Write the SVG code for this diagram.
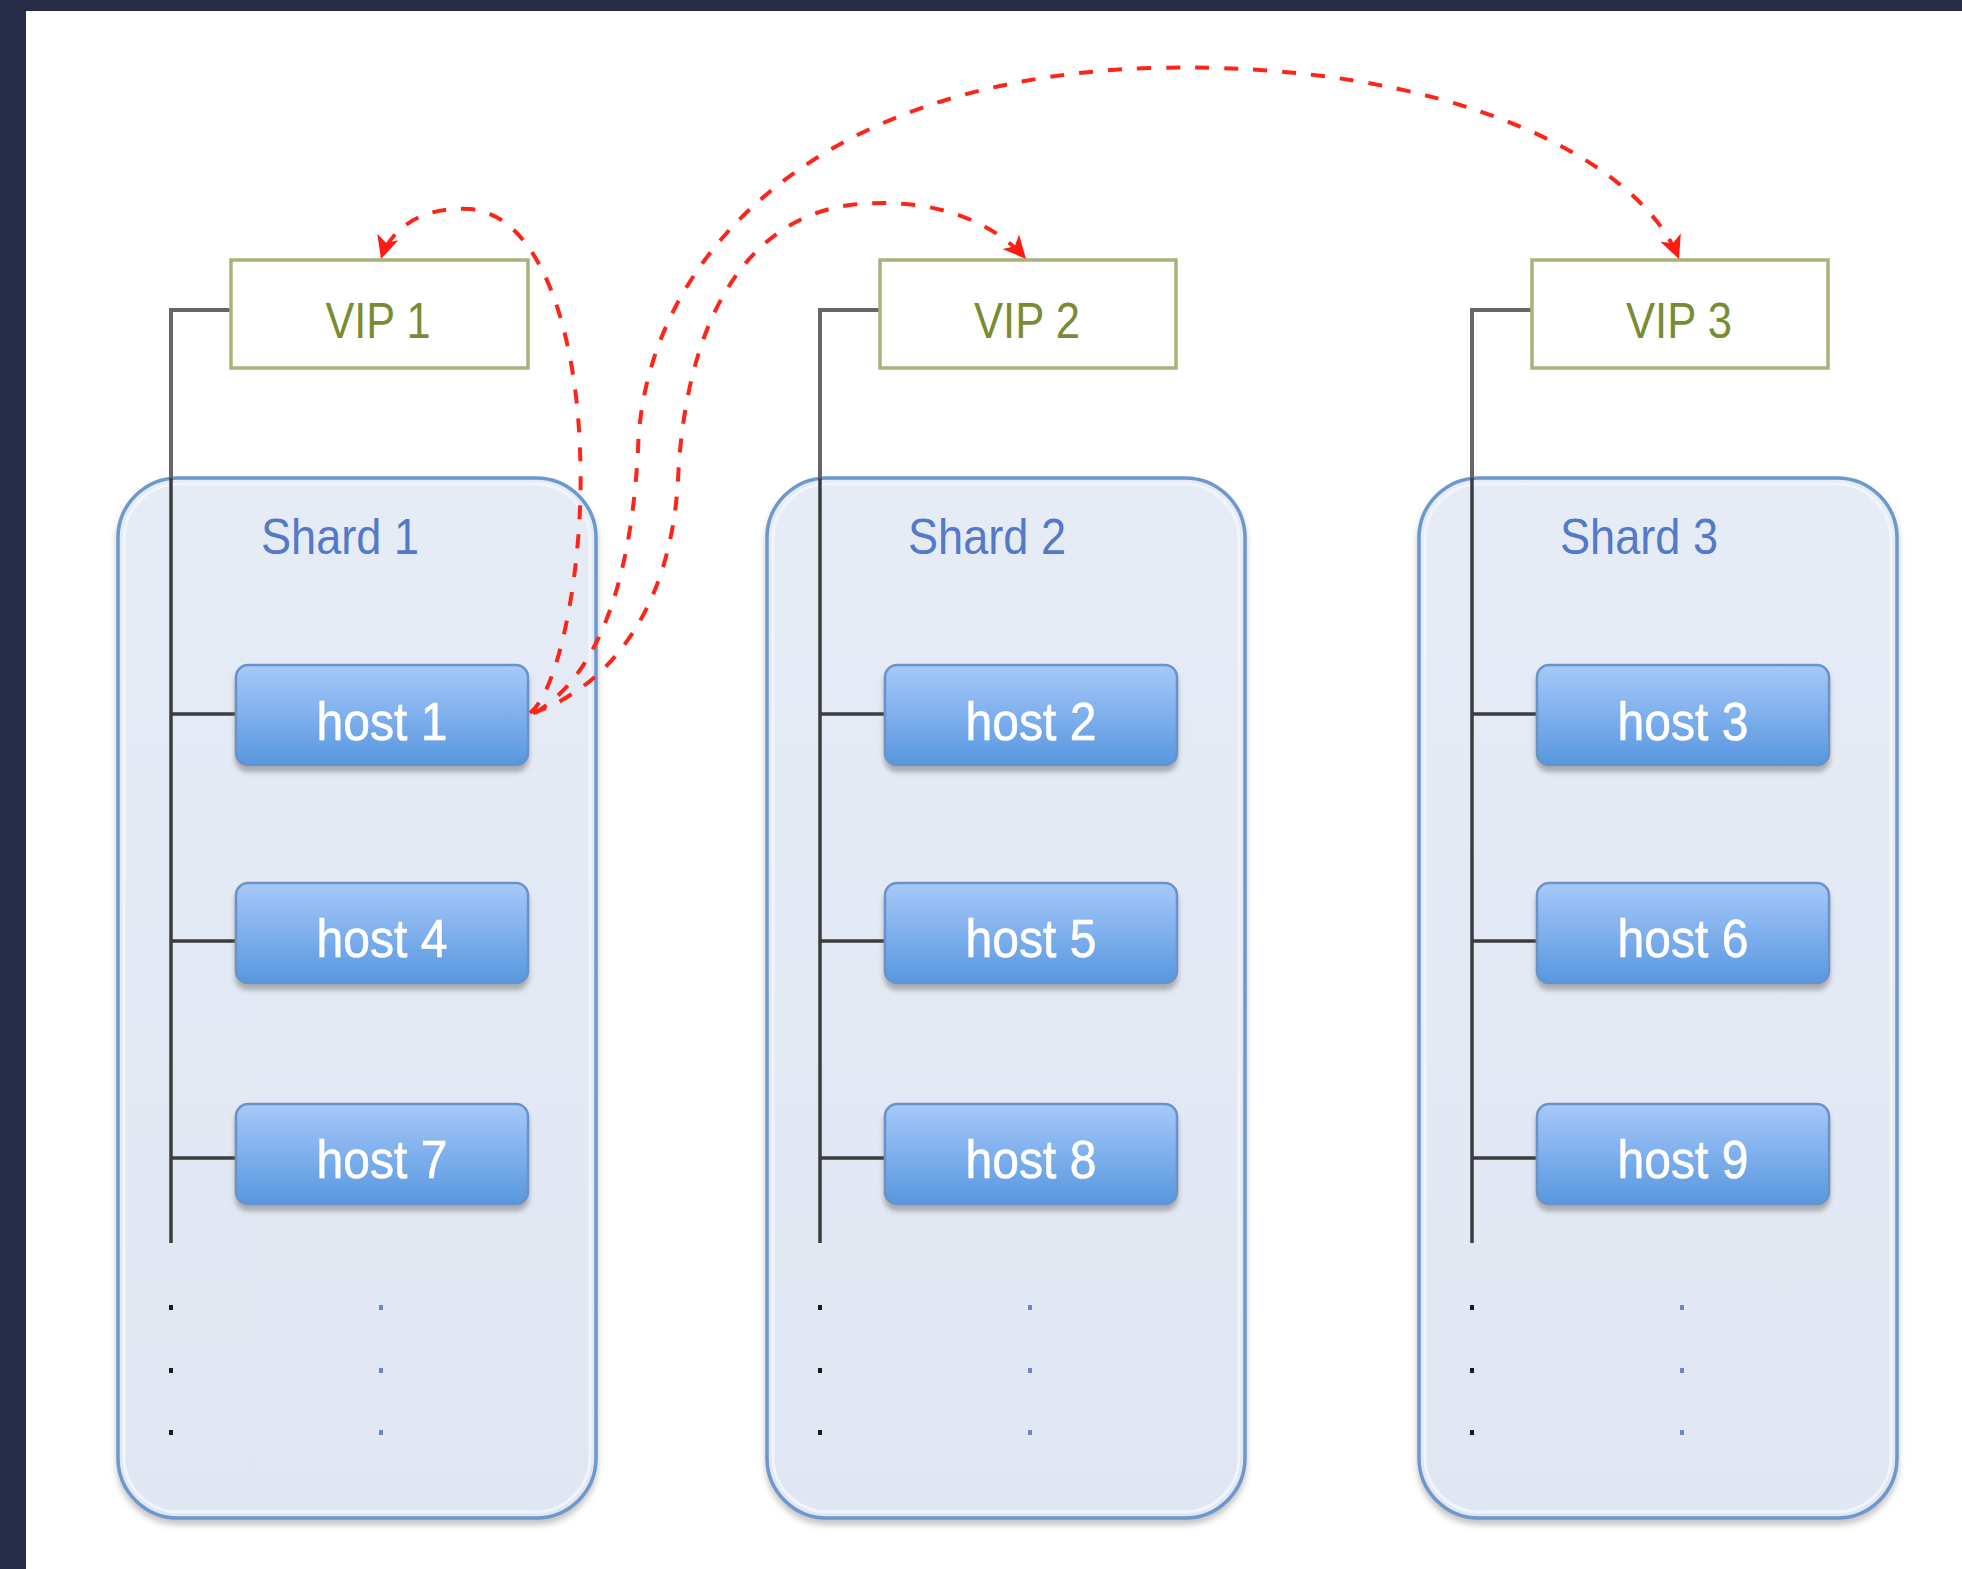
<svg xmlns="http://www.w3.org/2000/svg" width="1962" height="1569" viewBox="0 0 1962 1569">
  <defs>
    <linearGradient id="hostFill" x1="0" y1="0" x2="0" y2="1">
      <stop offset="0" stop-color="#a6c9f8"/>
      <stop offset="0.45" stop-color="#83b2ee"/>
      <stop offset="1" stop-color="#5797df"/>
    </linearGradient>
    <linearGradient id="shardFill" x1="0" y1="0" x2="0" y2="1">
      <stop offset="0" stop-color="#e6ecf6"/>
      <stop offset="1" stop-color="#e0e7f2"/>
    </linearGradient>
    <filter id="softShadow" x="-10%" y="-10%" width="120%" height="125%">
      <feDropShadow dx="0" dy="5" stdDeviation="3" flood-color="#7a7a7a" flood-opacity="0.45"/>
    </filter>
    <filter id="btnShadow" x="-10%" y="-20%" width="120%" height="150%">
      <feDropShadow dx="0" dy="6" stdDeviation="2.5" flood-color="#6f6f6f" flood-opacity="0.5"/>
    </filter>
    <marker id="redHead" markerUnits="userSpaceOnUse" markerWidth="28" markerHeight="28" viewBox="-2 -13 28 26" refX="23" refY="0" orient="auto">
      <path d="M0,-11 L23,0 L0,11 L6,0 Z" fill="#ff1a12"/>
    </marker>
    <style>
      .frame { fill: #272c48; }
      .vip rect { fill: #ffffff; stroke: #a9b27b; stroke-width: 3.5; }
      .vip text { font-family: "Liberation Sans", Arial, sans-serif; font-size: 50px; fill: #7a8c33; text-anchor: middle; }
      .shard .box { fill: url(#shardFill); stroke: #6c98cb; stroke-width: 3.5; filter: url(#softShadow); }
      .shard .hl { fill: none; stroke: #f4f7fc; stroke-width: 3; opacity: 0.8; }
      .shard text { font-family: "Liberation Sans", Arial, sans-serif; font-size: 50px; fill: #5379c8; text-anchor: middle; }
      .shard .dotL { fill: #1a1a1a; }
      .shard .dotR { fill: #6e84cf; }
      .host rect { fill: url(#hostFill); stroke: #6b92c6; stroke-width: 2.5; filter: url(#btnShadow); }
      .host text { font-family: "Liberation Sans", Arial, sans-serif; font-size: 53px; fill: #ffffff; text-anchor: middle; stroke: #ffffff; stroke-width: 0.6; }
      .bus { fill: none; stroke: #3c3c3c; stroke-width: 3.5; }
      .bus-top { fill: none; stroke: #666666; stroke-width: 4; }
      .flow { fill: none; stroke: #ff2418; stroke-width: 4; stroke-dasharray: 14 15; marker-end: url(#redHead); }
    </style>
  </defs>

  <!-- page background and dark frame -->
  <rect x="0" y="0" width="1962" height="1569" fill="#ffffff"/>
  <rect class="frame" x="0" y="0" width="1962" height="11"/>
  <rect class="frame" x="0" y="0" width="26" height="1569"/>

  <!-- shard containers -->
  <g id="shard1" class="shard">
    <rect class="box" x="118" y="478" width="478" height="1040" rx="60"/>
    <rect class="hl" x="124" y="484" width="466" height="1028" rx="55"/>
    <text x="340" y="554" textLength="158" lengthAdjust="spacingAndGlyphs">Shard 1</text>
    <rect class="dotL" x="169" y="1305" width="4" height="5"/>
    <rect class="dotL" x="169" y="1368" width="4" height="5"/>
    <rect class="dotL" x="169" y="1430" width="4" height="5"/>
    <rect class="dotR" x="379" y="1305" width="4" height="5"/>
    <rect class="dotR" x="379" y="1368" width="4" height="5"/>
    <rect class="dotR" x="379" y="1430" width="4" height="5"/>
  </g>
  <g id="shard2" class="shard">
    <rect class="box" x="767" y="478" width="478" height="1040" rx="60"/>
    <rect class="hl" x="773" y="484" width="466" height="1028" rx="55"/>
    <text x="987" y="554" textLength="158" lengthAdjust="spacingAndGlyphs">Shard 2</text>
    <rect class="dotL" x="818" y="1305" width="4" height="5"/>
    <rect class="dotL" x="818" y="1368" width="4" height="5"/>
    <rect class="dotL" x="818" y="1430" width="4" height="5"/>
    <rect class="dotR" x="1028" y="1305" width="4" height="5"/>
    <rect class="dotR" x="1028" y="1368" width="4" height="5"/>
    <rect class="dotR" x="1028" y="1430" width="4" height="5"/>
  </g>
  <g id="shard3" class="shard">
    <rect class="box" x="1419" y="478" width="478" height="1040" rx="60"/>
    <rect class="hl" x="1425" y="484" width="466" height="1028" rx="55"/>
    <text x="1639" y="554" textLength="158" lengthAdjust="spacingAndGlyphs">Shard 3</text>
    <rect class="dotL" x="1470" y="1305" width="4" height="5"/>
    <rect class="dotL" x="1470" y="1368" width="4" height="5"/>
    <rect class="dotL" x="1470" y="1430" width="4" height="5"/>
    <rect class="dotR" x="1680" y="1305" width="4" height="5"/>
    <rect class="dotR" x="1680" y="1368" width="4" height="5"/>
    <rect class="dotR" x="1680" y="1430" width="4" height="5"/>
  </g>

  <!-- connectors: bus lines from each VIP to its hosts -->
  <g id="connectors">
    <path class="bus-top" d="M231 310 H171 V478"/>
    <path class="bus" d="M171 478 V1243 M171 714 H236 M171 941 H236 M171 1158 H236"/>
    <path class="bus-top" d="M880 310 H820 V478"/>
    <path class="bus" d="M820 478 V1243 M820 714 H885 M820 941 H885 M820 1158 H885"/>
    <path class="bus-top" d="M1532 310 H1472 V478"/>
    <path class="bus" d="M1472 478 V1243 M1472 714 H1537 M1472 941 H1537 M1472 1158 H1537"/>
  </g>

  <!-- hosts -->
  <g id="host1" class="host"><rect x="236" y="665" width="292" height="100" rx="12"/><text x="382" y="740" textLength="131" lengthAdjust="spacingAndGlyphs">host 1</text></g>
  <g id="host2" class="host"><rect x="885" y="665" width="292" height="100" rx="12"/><text x="1031" y="740" textLength="131" lengthAdjust="spacingAndGlyphs">host 2</text></g>
  <g id="host3" class="host"><rect x="1537" y="665" width="292" height="100" rx="12"/><text x="1683" y="740" textLength="131" lengthAdjust="spacingAndGlyphs">host 3</text></g>
  <g id="host4" class="host"><rect x="236" y="883" width="292" height="100" rx="12"/><text x="382" y="957" textLength="131" lengthAdjust="spacingAndGlyphs">host 4</text></g>
  <g id="host5" class="host"><rect x="885" y="883" width="292" height="100" rx="12"/><text x="1031" y="957" textLength="131" lengthAdjust="spacingAndGlyphs">host 5</text></g>
  <g id="host6" class="host"><rect x="1537" y="883" width="292" height="100" rx="12"/><text x="1683" y="957" textLength="131" lengthAdjust="spacingAndGlyphs">host 6</text></g>
  <g id="host7" class="host"><rect x="236" y="1104" width="292" height="100" rx="12"/><text x="382" y="1178" textLength="131" lengthAdjust="spacingAndGlyphs">host 7</text></g>
  <g id="host8" class="host"><rect x="885" y="1104" width="292" height="100" rx="12"/><text x="1031" y="1178" textLength="131" lengthAdjust="spacingAndGlyphs">host 8</text></g>
  <g id="host9" class="host"><rect x="1537" y="1104" width="292" height="100" rx="12"/><text x="1683" y="1178" textLength="131" lengthAdjust="spacingAndGlyphs">host 9</text></g>

  <!-- virtual IPs -->
  <g id="vip1" class="vip"><rect x="231" y="260" width="297" height="108"/><text x="378" y="338" textLength="105" lengthAdjust="spacingAndGlyphs">VIP 1</text></g>
  <g id="vip2" class="vip"><rect x="880" y="260" width="296" height="108"/><text x="1027" y="338" textLength="106" lengthAdjust="spacingAndGlyphs">VIP 2</text></g>
  <g id="vip3" class="vip"><rect x="1532" y="260" width="296" height="108"/><text x="1679" y="338" textLength="106" lengthAdjust="spacingAndGlyphs">VIP 3</text></g>

  <!-- host 1 takes over each VIP -->
  <g id="failover">
    <path class="flow" d="M530 713 C560 690 585 560 580 450 C576 330 540 215 470 209 C420 206 390 230 381 259"/>
    <path class="flow" d="M533 713 C600 690 670 620 678 480 C685 330 740 220 850 205 C940 195 997 226 1026 259"/>
    <path class="flow" d="M535 713 C590 680 630 600 638 450 C643 270 800 80 1150 68 C1450 60 1640 160 1679 259"/>
  </g>
</svg>
